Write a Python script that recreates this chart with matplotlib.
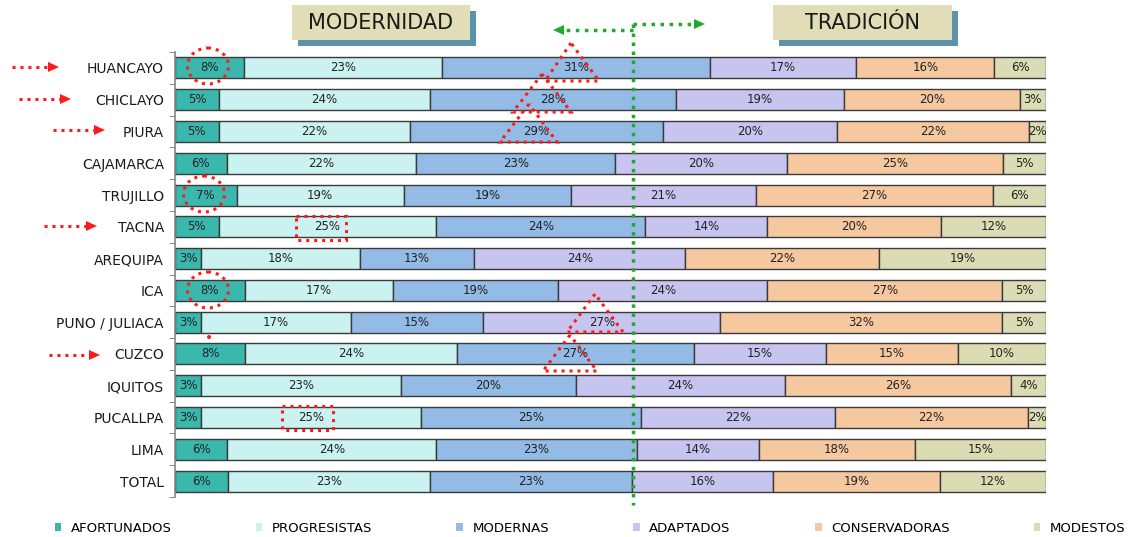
import matplotlib
matplotlib.use("Agg")
import matplotlib.pyplot as plt
import numpy as np
from matplotlib.patches import Rectangle, Ellipse, Polygon, Patch
from matplotlib.transforms import Affine2D

plt.rcParams['font.family'] = ['DejaVu Sans']

categories = ["HUANCAYO", "CHICLAYO", "PIURA", "CAJAMARCA", "TRUJILLO", "TACNA",
              "AREQUIPA", "ICA", "PUNO / JULIACA", "CUZCO", "IQUITOS", "PUCALLPA",
              "LIMA", "TOTAL"]
series_names = ["AFORTUNADOS", "PROGRESISTAS", "MODERNAS", "ADAPTADOS",
                "CONSERVADORAS", "MODESTOS"]
afortunados   = [8, 5, 5, 6, 7, 5, 3, 8, 3, 8, 3, 3, 6, 6]
progresistas  = [23, 24, 22, 22, 19, 25, 18, 17, 17, 24, 23, 25, 24, 23]
modernas      = [31, 28, 29, 23, 19, 24, 13, 19, 15, 27, 20, 25, 23, 23]
adaptados     = [17, 19, 20, 20, 21, 14, 24, 24, 27, 15, 24, 22, 14, 16]
conservadoras = [16, 20, 22, 25, 27, 20, 22, 27, 32, 15, 26, 22, 18, 19]
modestos      = [6, 3, 2, 5, 6, 12, 19, 5, 5, 10, 4, 2, 15, 12]

colors = ["#3bb8ae", "#c9f2f0", "#93bbe6", "#c7c4ef", "#f6c8a0", "#dcdcb4"]

W, H = 1133, 537
fig = plt.figure(figsize=(W / 100, H / 100), dpi=100)
ax = fig.add_axes([175 / W, 1 - 497 / H, (1046 - 175) / W, (497 - 52) / H])

data = np.array([afortunados, progresistas, modernas, adaptados, conservadoras, modestos], dtype=float)
totals = data.sum(axis=0)
norm = data / totals * 100
y = np.arange(len(categories))
left = np.zeros(len(categories))
for i, name in enumerate(series_names):
    bars = ax.barh(y, norm[i], left=left, height=0.66, color=colors[i],
                   edgecolor="#3a3a3a", linewidth=1.0, label=name, zorder=2)
    for j, b in enumerate(bars):
        ax.text(left[j] + norm[i][j] / 2, y[j], f"{int(data[i][j])}%",
                ha="center", va="center", fontsize=8.5, color="#222222", zorder=4)
    left += norm[i]

ax.set_xlim(0, 100)
ax.set_ylim(len(categories) - 0.5, -0.5)
ax.set_yticks(y)
ax.set_yticklabels(categories, fontsize=10, color="#1a1a1a")
ax.set_yticks(np.arange(-0.5, len(categories), 1), minor=True)
ax.tick_params(axis="y", which="major", length=0, pad=8)
ax.tick_params(axis="y", which="minor", length=4, color="#777777", direction="out")
ax.set_xticks([])
for s in ["top", "right", "bottom"]:
    ax.spines[s].set_visible(False)
ax.spines["left"].set_color("#888888")
ax.spines["left"].set_linewidth(1.2)

# pixel transform (origin top-left)
pix = Affine2D().scale(1 / W, -1 / H).translate(0, 1) + fig.transFigure

# header boxes
for (x0, x1, txt) in [(292, 470, "MODERNIDAD"), (773, 952, "TRADICIÓN")]:
    fig.patches.append(Rectangle((x0 + 6, 11), x1 - x0, 35, transform=pix,
                                 facecolor="#5a93ab", edgecolor="none", zorder=1))
    fig.patches.append(Rectangle((x0, 5), x1 - x0, 35, transform=pix,
                                 facecolor="#e1ddb6", edgecolor="none", zorder=2))
    fig.text((x0 + x1) / 2 / W, 1 - 23 / H, txt, ha="center", va="center",
             fontsize=15, color="#1a1a1a", zorder=3)

# green dotted divider and arrows
green = "#1faa2a"
fig.add_artist(plt.Line2D([633, 633], [24, 505], transform=pix, color=green,
                          lw=2.5, ls=(0, (1, 1.6)), zorder=5))
fig.add_artist(plt.Line2D([633, 563], [30, 30], transform=pix, color=green,
                          lw=2.5, ls=(0, (1, 1.6)), zorder=5))
fig.add_artist(plt.Line2D([633, 694], [24, 24], transform=pix, color=green,
                          lw=2.5, ls=(0, (1, 1.6)), zorder=5))
fig.patches.append(Polygon([[553, 30], [564, 25], [564, 35]], transform=pix,
                           facecolor=green, edgecolor="none", zorder=5))
fig.patches.append(Polygon([[705, 24], [694, 19], [694, 29]], transform=pix,
                           facecolor=green, edgecolor="none", zorder=5))

red = "#ff1a1a"
dot = (0, (1, 1.6))
# red arrows
for (x0, x1, yy) in [(12, 48, 67), (19, 60, 99), (53, 94, 130), (44, 86, 226), (49, 89, 355)]:
    fig.add_artist(plt.Line2D([x0, x1], [yy, yy], transform=pix, color=red, lw=2.2,
                              ls=dot, zorder=6))
    fig.patches.append(Polygon([[x1 + 11, yy], [x1, yy - 5], [x1, yy + 5]], transform=pix,
                               facecolor=red, edgecolor="none", zorder=6))
# circles
for (cx, cy) in [(208, 66), (204, 194), (208, 290)]:
    fig.patches.append(Ellipse((cx, cy), 41, 36, transform=pix, facecolor="none",
                               edgecolor=red, lw=2.2, ls=dot, zorder=6))
# rectangles
for (x0, y0, w, h) in [(296, 216, 50, 24), (282, 406, 51, 24)]:
    fig.patches.append(Rectangle((x0, y0), w, h, transform=pix, facecolor="none",
                                 edgecolor=red, lw=2.2, ls=dot, zorder=6))
# triangles
for (ax_, ay_, bl, br, by) in [(571, 43, 545, 599, 81), (542, 74, 513, 571, 112),
                               (529, 104, 500, 557, 142), (595, 294, 567, 623, 332),
                               (570, 335, 543, 597, 371)]:
    fig.patches.append(Polygon([[ax_, ay_], [bl, by], [br, by]], closed=True, transform=pix,
                               facecolor="none", edgecolor=red, lw=2.2, ls=dot, zorder=6))
fig.patches.append(Ellipse((209, 337), 4, 4, transform=pix, facecolor=red,
                           edgecolor="none", zorder=6))

handles = [Patch(facecolor=c, edgecolor="none") for c in colors]
fig.legend(handles, series_names, loc="center", bbox_to_anchor=(590 / W, 1 - 528 / H),
           ncol=6, frameon=False, fontsize=9.5, handlelength=0.5, handleheight=0.5,
           handletextpad=0.7, columnspacing=6.4)

fig.savefig("out.png", dpi=100, facecolor="white")
